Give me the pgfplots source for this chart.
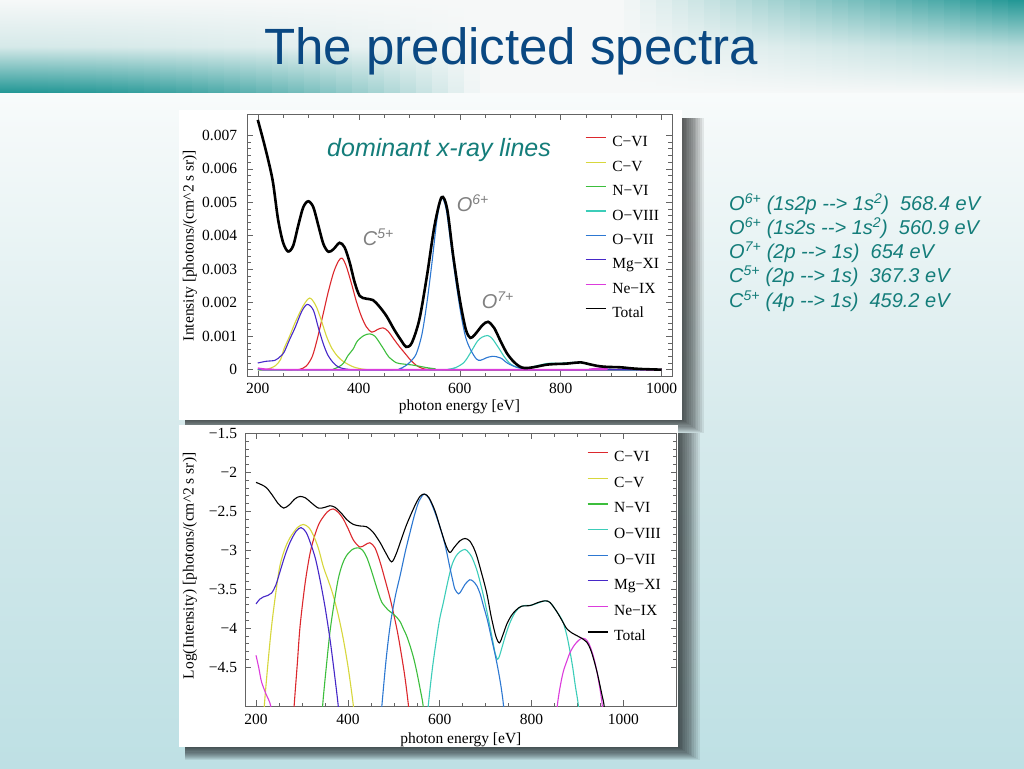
\documentclass[border=0pt]{standalone}
\usepackage{pgfplots}
\pgfplotsset{compat=1.18}
\usepackage{fontspec}
\setmainfont{Liberation Serif}
\newfontfamily\arial{Liberation Sans}
\definecolor{teal0}{RGB}{32,150,148}
\definecolor{bannerbase}{RGB}{246,248,248}
\definecolor{bgtop}{RGB}{248,251,251}
\definecolor{bgmid}{RGB}{214,234,236}
\definecolor{bgbot}{RGB}{190,224,228}
\definecolor{titleblue}{RGB}{10,72,130}
\definecolor{tealtext}{RGB}{20,125,122}
\definecolor{cvi}{RGB}{220,40,45}
\definecolor{cv}{RGB}{215,215,60}
\definecolor{nvi}{RGB}{60,190,60}
\definecolor{oviii}{RGB}{60,205,185}
\definecolor{ovii}{RGB}{45,120,210}
\definecolor{mg}{RGB}{70,40,200}
\definecolor{ne}{RGB}{220,60,220}
\definecolor{framegray}{RGB}{100,100,100}
\pgfplotsset{
  common/.style={
    scale only axis, anchor=south west, tick align=inside,
    axis line style={framegray}, every tick/.style={framegray, line width=0.5pt},
    major tick length=6pt, minor tick length=3.5pt,
    tick label style={font=\fontsize{15.5}{18}\selectfont, inner sep=0pt},
    label style={font=\fontsize{15.5}{18}\selectfont, inner sep=0pt},
    /pgf/number format/assume math mode=true,
    legend cell align=left,
    legend image code/.code={\draw[##1, line width=1.2pt] (0pt,5pt) -- (20pt,5pt);},
  }
}
\begin{document}
\begin{tikzpicture}[x=1pt,y=1pt]
\useasboundingbox (0,0) rectangle (1024,768);
% background
\shade[top color=bgtop, bottom color=bgbot, middle color=bgmid] (0,0) rectangle (1024,676);
\foreach \i in {0,...,63}{
  \pgfmathsetmacro{\xc}{\i*16+8}
  \pgfmathsetmacro{\tp}{100*max(0,min(1,(\xc-620)/404))}
  \pgfmathsetmacro{\sbv}{max(0,min(1,(480-\xc)/480))}
  \pgfmathsetmacro{\bp}{100*(1-(1-\sbv)*(1-\sbv))}
  \pgfmathsetmacro{\mdp}{0.3*\tp+0.15*\bp}
  \shade[top color=teal0!\tp!bannerbase, bottom color=teal0!\bp!bannerbase, middle color=teal0!\mdp!bannerbase] (\i*16,675) rectangle (\i*16+17,768);
}
\node[anchor=base, inner sep=0pt, text=titleblue, font=\arial\fontsize{51}{60}\selectfont] at (511,703) {The predicted spectra};
% shadows
\foreach \k in {1,...,12}{
  \fill[black, opacity=0.075] (185,348-1.1*\k) rectangle (682+1.8*\k,650);
  \fill[black, opacity=0.075] (185,21-1.1*\k) rectangle (678+1.8*\k,335);
}
\fill[white] (179,21) rectangle (678,343);
\fill[white] (179,348) rectangle (682,658);

% ---------------- top chart (linear)
\begin{axis}[common, at={(247.3pt,391.3pt)}, width=424.4pt, height=262.4pt,
  xmin=179.2, xmax=1019.8, ymin=-0.000209, ymax=0.007627,
  xtick={200,400,600,800,1000}, xticklabels={200,400,600,800,1000}, minor x tick num=3,
  ytick={0,0.001,0.002,0.003,0.004,0.005,0.006,0.007},
  yticklabels={0,0.001,0.002,0.003,0.004,0.005,0.006,0.007}, minor y tick num=4,
  scaled y ticks=false,
  xticklabel style={anchor=base, yshift=-16.6pt},
  yticklabel style={anchor=east, xshift=-10pt},
  xlabel={photon energy [eV]},
  ylabel={Intensity [photons/(cm\textasciicircum 2 s sr)]},
  xlabel style={at={(axis description cs:0.5,-0.127)}, anchor=base},
  ylabel style={at={(axis description cs:-0.135,0.5)}, anchor=center},
  legend style={at={(axis description cs:0.796,0.918)}, anchor=north west, draw=none, fill=none,
    inner sep=0pt, outer sep=0pt, row sep=10.4pt, font=\fontsize{15.5}{18}\selectfont,
    nodes={inner sep=0pt, text height=11pt, text depth=3pt},
    /tikz/every odd column/.append style={column sep=6pt}},
]
\addplot[cvi, line width=1.1pt, smooth] coordinates {(200,0)(270,0)(283,0.00001)(296,0.00011)(308,0.0004)(318,0.00093)(330,0.0017)(339,0.00229)(350,0.0029)(360,0.00325)(367,0.00333)(375,0.0031)(385,0.0026)(395,0.00205)(405,0.0016)(415,0.00128)(426,0.00112)(437,0.0012)(448,0.00125)(458,0.00115)(470,0.0009)(481,0.00068)(492,0.00048)(503,0.00028)(514,0.00013)(524,0.00005)(535,0.00001)(560,0)(1000,0)};
\addlegendentry{C−VI}
\addplot[cv, line width=1.1pt, smooth] coordinates {(200,0)(210,0)(218,0.00001)(234,0.00011)(245,0.0003)(252,0.00063)(263,0.001)(274,0.00141)(290,0.00191)(303,0.00214)(315,0.00191)(325,0.00151)(336,0.001)(347,0.00063)(358,0.0004)(368,0.00026)(380,0.00015)(390,0.00008)(400,0.00004)(412,0.00001)(440,0)(1000,0)};
\addlegendentry{C−V}
\addplot[nvi, line width=1.1pt, smooth] coordinates {(200,0)(340,0)(350,0.00002)(361,0.00009)(370,0.0002)(379,0.00043)(389,0.00062)(397,0.00085)(410,0.00102)(422,0.00107)(432,0.001)(441,0.00081)(450,0.0006)(459,0.00039)(474,0.00021)(488,0.00017)(506,0.00014)(521,0.0001)(535,0.00006)(550,0.00003)(570,0)(1000,0)};
\addlegendentry{N−VI}
\addplot[oviii, line width=1.1pt, smooth] coordinates {(200,0)(570,0)(580,0.00002)(593,0.00007)(608,0.00021)(617,0.0004)(626,0.00063)(635,0.00085)(644,0.00097)(655,0.00102)(663,0.00095)(670,0.00081)(680,0.00058)(688,0.00039)(697,0.00022)(706,0.00012)(721,0.00004)(735,0.00005)(753,0.00012)(775,0.00019)(797,0.00019)(815,0.00021)(829,0.00022)(845,0.0002)(855,0.00016)(869,0.00012)(884,0.00005)(902,0.00001)(920,0)(1000,0)};
\addlegendentry{O−VIII}
\addplot[ovii, line width=1.1pt, smooth] coordinates {(200,0)(470,0)(480,0.00002)(492,0.00011)(503,0.00025)(514,0.00048)(525,0.00105)(535,0.002)(545,0.0032)(555,0.0045)(564,0.00513)(573,0.0048)(582,0.0038)(593,0.00257)(603,0.0016)(612,0.00095)(622,0.00058)(633,0.00032)(641,0.00028)(652,0.00035)(665,0.0004)(681,0.00035)(695,0.00019)(713,0.00007)(728,0.00003)(745,0)(1000,0)};
\addlegendentry{O−VII}
\addplot[mg, line width=1.1pt, smooth] coordinates {(200,0.0002)(216,0.00025)(234,0.00028)(245,0.0004)(252,0.00052)(263,0.0009)(274,0.00126)(287,0.00174)(298,0.00195)(310,0.00178)(320,0.00125)(330,0.00076)(339,0.00043)(350,0.0002)(361,0.00007)(379,0.00001)(400,0)(1000,0)};
\addlegendentry{Mg−XI}
\addplot[ne, line width=1.6pt, smooth] coordinates {(200,0.000045)(212,0.00002)(232,0.00001)(250,0)(850,0)(869,0.00003)(884,0.00005)(902,0.00007)(917,0.00007)(934,0.00004)(950,0.000015)(965,0)(1000,0)};
\addlegendentry{Ne−IX}
\addplot[black, line width=2.6pt, smooth] coordinates {(200,0.00746)(210,0.0069)(220,0.0063)(230,0.0056)(240,0.0045)(250,0.0038)(260,0.00353)(270,0.0037)(280,0.0043)(290,0.00485)(300,0.00503)(310,0.00485)(320,0.0043)(330,0.00375)(340,0.00352)(350,0.0036)(362,0.00379)(372,0.00365)(382,0.0032)(392,0.0026)(402,0.0022)(415,0.00212)(428,0.00208)(440,0.0019)(455,0.0016)(470,0.0012)(485,0.00085)(494,0.00068)(505,0.0008)(520,0.0015)(535,0.0028)(550,0.0043)(564,0.00515)(575,0.0048)(587,0.0034)(600,0.0021)(612,0.0012)(621,0.00095)(630,0.00105)(645,0.00133)(656,0.00143)(668,0.00125)(680,0.00088)(693,0.0005)(706,0.00025)(718,0.0001)(728,0.00005)(740,0.00006)(755,0.0001)(772,0.00015)(790,0.00017)(810,0.00018)(830,0.00021)(840,0.00022)(855,0.00017)(870,0.00012)(885,0.00009)(900,0.00008)(920,0.00007)(940,0.00004)(960,0.00002)(980,0.00001)(1000,0)};
\addlegendentry{Total}
\end{axis}

% ---------------- bottom chart (log)
\begin{axis}[common, at={(245pt,62pt)}, width=431.7pt, height=272.7pt,
  xmin=176, xmax=1116, ymin=-5, ymax=-1.5,
  xtick={200,400,600,800,1000}, xticklabels={200,400,600,800,1000}, minor x tick num=3,
  ytick={-4.5,-4,-3.5,-3,-2.5,-2,-1.5},
  yticklabels={−4.5,−4,−3.5,−3,−2.5,−2,−1.5}, minor y tick num=4,
  xticklabel style={anchor=base, yshift=-18.3pt},
  yticklabel style={anchor=east, xshift=-7.7pt},
  xlabel={photon energy [eV]},
  ylabel={Log(Intensity) [photons/(cm\textasciicircum 2 s sr)]},
  xlabel style={at={(axis description cs:0.5,-0.137)}, anchor=base},
  ylabel style={at={(axis description cs:-0.1274,0.514)}, anchor=center},
  legend style={at={(axis description cs:0.792,0.936)}, anchor=north west, draw=none, fill=none,
    inner sep=0pt, outer sep=0pt, row sep=11.6pt, font=\fontsize{15.5}{18}\selectfont,
    nodes={inner sep=0pt, text height=11pt, text depth=3pt},
    /tikz/every odd column/.append style={column sep=6pt}},
]
\addplot[cvi, line width=1.1pt, smooth] coordinates {(278,-5.5)(283,-5)(290,-4.45)(296,-3.97)(307,-3.42)(318,-3.03)(329,-2.79)(339,-2.64)(355,-2.51)(368,-2.47)(380,-2.52)(390,-2.6)(401,-2.73)(412,-2.87)(426,-2.96)(438,-2.93)(448,-2.905)(459,-2.97)(470,-3.15)(481,-3.38)(492,-3.62)(499,-3.8)(507,-4.02)(514,-4.25)(524,-4.62)(532,-5)(536,-5.3)};
\addlegendentry{C−VI}
\addplot[cv, line width=1.1pt, smooth] coordinates {(214,-5.4)(218,-5)(226,-4.45)(234,-3.97)(243,-3.55)(252,-3.2)(263,-2.98)(274,-2.84)(290,-2.71)(303,-2.67)(315,-2.71)(325,-2.81)(336,-2.98)(347,-3.22)(358,-3.4)(368,-3.58)(379,-3.83)(390,-4.14)(401,-4.52)(412,-5)(416,-5.3)};
\addlegendentry{C−V}
\addplot[nvi, line width=1.1pt, smooth] coordinates {(342,-5.4)(345,-5)(353,-4.5)(361,-4.05)(370,-3.68)(379,-3.37)(388,-3.18)(397,-3.07)(410,-2.99)(422,-2.97)(432,-3.0)(441,-3.09)(450,-3.24)(459,-3.41)(467,-3.56)(474,-3.67)(488,-3.77)(497,-3.81)(506,-3.86)(514,-3.92)(521,-4.01)(528,-4.1)(535,-4.22)(543,-4.38)(550,-4.56)(557,-4.77)(564,-5)(567,-5.3)};
\addlegendentry{N−VI}
\addplot[oviii, line width=1.1pt, smooth] coordinates {(572,-5.3)(575,-5)(584,-4.52)(593,-4.14)(600,-3.88)(608,-3.67)(617,-3.42)(626,-3.2)(635,-3.08)(644,-3.02)(655,-2.99)(663,-3.03)(670,-3.09)(680,-3.24)(688,-3.41)(697,-3.63)(706,-3.88)(714,-4.12)(721,-4.33)(726,-4.4)(730,-4.36)(735,-4.26)(744,-4.08)(753,-3.93)(764,-3.8)(775,-3.73)(786,-3.71)(797,-3.71)(808,-3.69)(818,-3.67)(829,-3.65)(838,-3.66)(847,-3.72)(855,-3.79)(862,-3.85)(869,-3.93)(877,-4.1)(884,-4.31)(890,-4.52)(895,-4.73)(902,-5)(905,-5.3)};
\addlegendentry{O−VIII}
\addplot[ovii, line width=1.1pt, smooth] coordinates {(470,-5.3)(474,-5)(483,-4.42)(492,-3.97)(503,-3.6)(514,-3.32)(525,-3.02)(535,-2.78)(545,-2.55)(555,-2.37)(566,-2.28)(576,-2.33)(586,-2.46)(597,-2.64)(608,-2.85)(615,-3.02)(622,-3.22)(628,-3.38)(633,-3.5)(641,-3.56)(647,-3.52)(655,-3.44)(665,-3.38)(673,-3.4)(681,-3.46)(688,-3.56)(695,-3.71)(704,-3.9)(713,-4.14)(721,-4.35)(728,-4.56)(734,-4.77)(739,-5)(742,-5.3)};
\addlegendentry{O−VII}
\addplot[mg, line width=1.1pt, smooth] coordinates {(200,-3.69)(208,-3.63)(216,-3.6)(226,-3.58)(234,-3.55)(243,-3.45)(252,-3.28)(263,-3.07)(274,-2.9)(287,-2.76)(298,-2.71)(309,-2.77)(318,-2.9)(329,-3.1)(339,-3.37)(350,-3.72)(361,-4.14)(370,-4.55)(379,-5)(382,-5.3)};
\addlegendentry{Mg−XI}
\addplot[ne, line width=1.1pt, smooth] coordinates {(200,-4.35)(206,-4.51)(212,-4.69)(222,-4.85)(232,-5)(236,-5.3)};
\addlegendentry{Ne−IX}
\addplot[ne, line width=1.1pt, smooth, forget plot] coordinates {(853,-5.3)(856,-5)(862,-4.76)(869,-4.56)(877,-4.42)(884,-4.31)(893,-4.22)(902,-4.16)(910,-4.13)(917,-4.14)(925,-4.2)(934,-4.35)(942,-4.55)(950,-4.82)(954,-5)(957,-5.3)};
\addplot[black, line width=1.1pt, smooth] coordinates {(200,-2.13)(212,-2.16)(223,-2.2)(235,-2.29)(248,-2.4)(260,-2.46)(272,-2.42)(285,-2.34)(296,-2.31)(308,-2.33)(320,-2.39)(336,-2.46)(350,-2.45)(361,-2.43)(372,-2.45)(385,-2.52)(398,-2.61)(412,-2.67)(427,-2.69)(441,-2.7)(455,-2.77)(470,-2.9)(482,-3.03)(495,-3.15)(505,-3.05)(517,-2.85)(528,-2.67)(545,-2.44)(557,-2.31)(567,-2.28)(577,-2.33)(590,-2.5)(601,-2.71)(613,-2.93)(622,-3.03)(632,-2.96)(644,-2.88)(655,-2.85)(665,-2.88)(674,-2.97)(681,-3.08)(690,-3.27)(702,-3.54)(712,-3.85)(722,-4.1)(730,-4.19)(738,-4.08)(746,-3.95)(756,-3.84)(766,-3.77)(778,-3.72)(797,-3.71)(815,-3.67)(829,-3.65)(840,-3.67)(855,-3.79)(866,-3.9)(877,-4.01)(890,-4.07)(906,-4.12)(920,-4.18)(930,-4.3)(942,-4.55)(953,-4.85)(958,-5)(962,-5.3)};
\addlegendentry{Total}
\end{axis}

% annotations
\node[anchor=base west, inner sep=0pt, text=tealtext, font=\arial\itshape\fontsize{25}{30}\selectfont] at (327,611.3) {dominant x-ray lines};
\begin{scope}[every node/.style={anchor=base west, inner sep=0pt, text=black!50, font=\arial\itshape\fontsize{20}{24}\selectfont}]
\node at (456.7,556.3) {O\textsuperscript{6+}};
\node at (362.7,522) {C\textsuperscript{5+}};
\node at (481.7,459) {O\textsuperscript{7+}};
\end{scope}
\begin{scope}[every node/.style={anchor=base west, inner sep=0pt, text=tealtext, font=\arial\itshape\fontsize{20}{24}\selectfont}]
\node at (729,557) {O\textsuperscript{6+} (1s2p -\kern0pt-\kern0pt> 1s\textsuperscript{2})\ \ 568.4 eV};
\node at (729,533) {O\textsuperscript{6+} (1s2s -\kern0pt-\kern0pt> 1s\textsuperscript{2})\ \ 560.9 eV};
\node at (729,509) {O\textsuperscript{7+} (2p -\kern0pt-\kern0pt> 1s)\ \ 654 eV};
\node at (729,485) {C\textsuperscript{5+} (2p -\kern0pt-\kern0pt> 1s)\ \ 367.3 eV};
\node at (729,460) {C\textsuperscript{5+} (4p -\kern0pt-\kern0pt> 1s)\ \ 459.2 eV};
\end{scope}
\end{tikzpicture}
\end{document}
